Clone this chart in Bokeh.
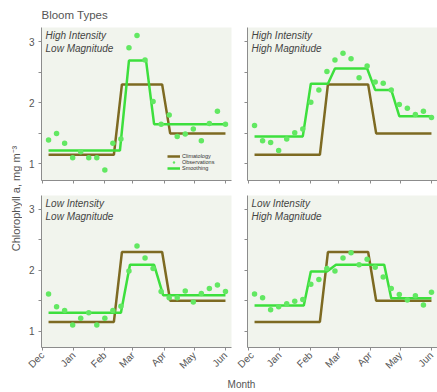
from math import pi
from bokeh.plotting import figure
from bokeh.layouts import row, column
from bokeh.models import FixedTicker, Range1d, Legend, LegendItem, Label
from bokeh.embed import file_html
from bokeh.resources import INLINE

# ---------------- data ----------------
months = ["Dec", "Jan", "Feb", "Mar", "Apr", "May", "Jun"]
month_start_day = [0, 31, 62, 90, 121, 151, 182]

obs_day = [6, 14, 22, 30, 38, 46, 54, 62, 70, 78, 86, 94, 102, 110, 118, 126,
           134, 142, 150, 158, 166, 174, 182]

clim_day = [6, 71, 79, 119, 127, 182]
clim_val = [1.15, 1.15, 2.30, 2.30, 1.50, 1.50]

# High Intensity / Low Magnitude
obs_hi_lo = [1.39, 1.50, 1.34, 1.10, 1.20, 1.10, 1.10, 0.90, 1.34, 1.41, 2.90, 3.10,
             2.70, 2.02, 1.65, 1.80, 1.45, 1.49, 1.57, 1.38, 1.66, 1.86, 1.65]
sm_hi_lo_day = [6, 77, 86, 103, 111, 182]
sm_hi_lo_val = [1.22, 1.22, 2.69, 2.69, 1.65, 1.65]

# High Intensity / High Magnitude
obs_hi_hi = [1.63, 1.38, 1.35, 1.22, 1.41, 1.51, 1.57, 2.01, 2.21, 2.51, 2.70, 2.81,
             2.72, 2.41, 2.60, 2.34, 2.32, 2.21, 1.97, 1.91, 1.81, 1.86, 1.76]
sm_hi_hi_day = [6, 54, 62, 79, 86, 118, 126, 142, 150, 182]
sm_hi_hi_val = [1.45, 1.45, 2.31, 2.31, 2.56, 2.56, 2.21, 2.21, 1.78, 1.78]

# Low Intensity / Low Magnitude
obs_lo_lo = [1.61, 1.40, 1.34, 1.10, 1.21, 1.30, 1.10, 1.21, 1.34, 1.41, 1.99, 2.40,
             2.20, 2.03, 1.65, 1.55, 1.55, 1.66, 1.48, 1.62, 1.70, 1.76, 1.65]
sm_lo_lo_day = [6, 78, 87, 111, 120, 182]
sm_lo_lo_val = [1.30, 1.30, 2.09, 2.09, 1.59, 1.59]

# Low Intensity / High Magnitude
obs_lo_hi = [1.61, 1.55, 1.35, 1.40, 1.45, 1.49, 1.52, 1.77, 1.85, 2.03, 1.99, 2.20,
             2.29, 2.09, 2.18, 2.05, 1.89, 1.70, 1.60, 1.51, 1.58, 1.43, 1.64]
sm_lo_hi_day = [6, 55, 62, 78, 87, 135, 142, 182]
sm_lo_hi_val = [1.42, 1.42, 1.98, 1.98, 2.09, 2.09, 1.54, 1.54]

y_ticks = [1, 2, 3]
y_minor_ticks = [1.5, 2.5]
y_all_ticks = [1, 1.5, 2, 2.5, 3]

# ---------------- style ----------------
FONT = "Liberation Sans"
TXT = "#555555"
AX = "#8c8c8c"
BG = "#f1f4ed"
BROWN = "#7d6a22"
GREEN = "#3ddf3d"
GREEN_PT = "#62e862"


def make_panel(lines, obs, sm_day, sm_val, left, top, legend=False, title=None):
    width = 213 if left else 202
    height = 190 if top else 187
    p = figure(width=width, height=height,
               x_range=Range1d(-1, 188), y_range=Range1d(0.73, 3.23),
               toolbar_location=None, output_backend="svg",
               min_border_left=19 if left else 12,
               min_border_right=4 if left else 0,
               min_border_top=27 if top else 5,
               min_border_bottom=10 if top else 30)
    p.background_fill_color = BG
    p.border_fill_color = "white"
    p.outline_line_color = None
    p.grid.visible = False

    if title:
        p.title.text = title
        p.title.text_font = FONT
        p.title.text_font_size = "11.5px"
        p.title.text_font_style = "normal"
        p.title.text_color = TXT
        p.title.align = "left"
        p.title.standoff = 13

    for ax in (p.xaxis[0], p.yaxis[0]):
        ax.axis_line_color = AX
        ax.major_tick_line_color = AX
        ax.minor_tick_line_color = AX
        ax.major_tick_out = 3
        ax.major_tick_in = 0
        ax.minor_tick_out = 3
        ax.minor_tick_in = 0
        ax.major_label_text_color = TXT
        ax.major_label_text_font = FONT

    xa = p.xaxis[0]
    if top:
        # ticks only, no labels
        xa.ticker = FixedTicker(ticks=[], minor_ticks=month_start_day)
        xa.major_label_standoff = 0
    else:
        xa.ticker = FixedTicker(ticks=month_start_day, minor_ticks=[])
        xa.major_label_overrides = {d: m for d, m in zip(month_start_day, months)}
        xa.major_label_text_font_size = "10px"
        xa.major_label_orientation = pi / 4
        xa.major_label_standoff = 3

    ya = p.yaxis[0]
    if left:
        ya.ticker = FixedTicker(ticks=y_ticks, minor_ticks=y_minor_ticks)
        ya.major_label_text_font_size = "10px"
        ya.major_label_standoff = 4
    else:
        ya.ticker = FixedTicker(ticks=[], minor_ticks=y_all_ticks)
        ya.major_label_standoff = 0

    r_clim = p.line(clim_day, clim_val, line_color=BROWN, line_width=2.5)
    r_sm = p.line(sm_day, sm_val, line_color=GREEN, line_width=2.5)
    r_obs = p.scatter(obs_day, obs, size=5.5, fill_color=GREEN_PT, line_color=None)

    p.add_layout(Label(x=3, y=3.10, text=lines[0], text_font=FONT,
                       text_font_size="10px", text_font_style="italic",
                       text_color="#444444", text_baseline="middle"))
    p.add_layout(Label(x=3, y=2.89, text=lines[1], text_font=FONT,
                       text_font_size="10px", text_font_style="italic",
                       text_color="#444444", text_baseline="middle"))

    if legend:
        lg = Legend(items=[LegendItem(label="Climatology", renderers=[r_clim]),
                           LegendItem(label="Observations", renderers=[r_obs]),
                           LegendItem(label="Smoothing", renderers=[r_sm])],
                    location=(126, 9), padding=0, spacing=0, margin=0,
                    glyph_height=6, glyph_width=13, label_height=6,
                    label_standoff=2, label_text_font_size="5.5px",
                    label_text_font=FONT, label_text_color="#333333",
                    background_fill_alpha=0, border_line_color=None)
        p.add_layout(lg)
    return p


tl = make_panel(("High Intensity", "Low Magnitude"), obs_hi_lo, sm_hi_lo_day, sm_hi_lo_val,
                left=True, top=True, legend=True, title="Bloom Types")
tr = make_panel(("High Intensity", "High Magnitude"), obs_hi_hi, sm_hi_hi_day, sm_hi_hi_val,
                left=False, top=True)
bl = make_panel(("Low Intensity", "Low Magnitude"), obs_lo_lo, sm_lo_lo_day, sm_lo_lo_val,
                left=True, top=False)
br = make_panel(("Low Intensity", "High Magnitude"), obs_lo_hi, sm_lo_hi_day, sm_lo_hi_val,
                left=False, top=False)


def strip(width, height, x0):
    s = figure(width=width, height=height, x_range=Range1d(x0, x0 + width),
               y_range=Range1d(0, height), toolbar_location=None, output_backend="svg",
               x_axis_location=None, y_axis_location=None, min_border=0)
    s.outline_line_color = None
    s.grid.visible = False
    s.background_fill_color = "white"
    s.border_fill_color = "white"
    return s


ystrip = strip(22, 392, 0)
ystrip.add_layout(Label(x=15, y=194, text="Chlorophyll a, mg m\u207b\u00b3", angle=pi / 2,
                        text_align="center", text_baseline="middle", text_font=FONT,
                        text_font_size="11px", text_color=TXT))

mstrip = strip(415, 15, 22)
mstrip.add_layout(Label(x=241, y=8, text="Month", text_align="center",
                        text_baseline="middle", text_font=FONT,
                        text_font_size="10px", text_color=TXT))

layout = row(ystrip, column(row(tl, tr), row(bl, br), mstrip))

open("out.html", "w").write(file_html(layout, INLINE))
